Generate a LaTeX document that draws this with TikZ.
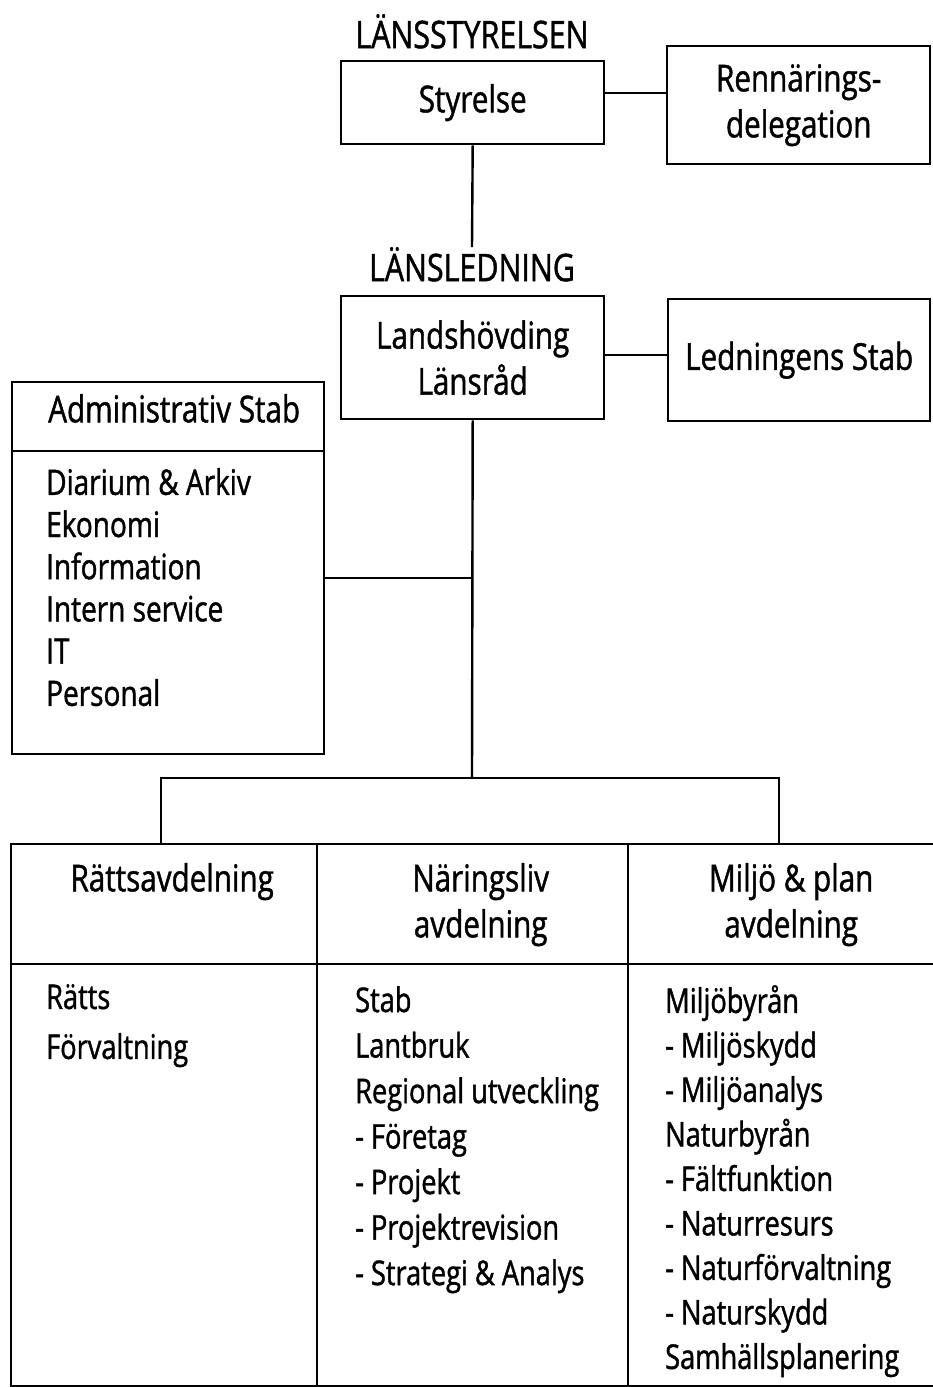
\documentclass[tikz,border=0pt]{standalone}
\usepackage{fontspec}
\setmainfont{Open Sans}[FakeStretch=0.8, FakeBold=1.2]
\usetikzlibrary{positioning,calc}
\tikzstyle{box} = [rectangle, draw=black, line width=2.4pt, align=center, inner sep=0pt]
\tikzstyle{cell} = [rectangle, draw=black, line width=2.4pt, inner sep=0pt, anchor=north west]
\tikzstyle{title} = [inner sep=0pt, align=center, anchor=north]
\tikzstyle{list} = [inner sep=0pt, align=left, anchor=north west]
\tikzstyle{conn} = [line width=2.4pt]

\begin{document}
\begin{tikzpicture}[x=1pt, y=-1pt, font=\fontsize{37}{46}\selectfont]
	\useasboundingbox (0,0) rectangle (933,1387);
	
	% ledning
	\node[title, font=\fontsize{38}{46}\selectfont] (lst) at (472,14) {LÄNSSTYRELSEN};
	\node[box, anchor=north west, minimum width=263pt, minimum height=83pt] (sty) at (340,60) {Styrelse};
	\node[box, anchor=north west, minimum width=263pt, minimum height=118pt] (ren) at (666,45) {Rennärings-\\delegation};
	\node[title, font=\fontsize{38}{46}\selectfont] (lsl) at (472,247) {LÄNSLEDNING};
	\node[box, anchor=north west, minimum width=263pt, minimum height=123pt] (lh) at (340,295) {Landshövding\\Länsråd};
	\node[box, anchor=north west, minimum width=262pt, minimum height=122pt] (ls) at (667,298) {Ledningens Stab};
	
	% administrativ stab
	\node[cell, minimum width=312pt, minimum height=69pt] (admhead) at (11,381) {};
	\node[cell, minimum width=312pt, minimum height=303pt] (admbody) at (11,450) {};
	\node[title] (admtitle) at ($(admhead.north)+(6,13)$) {Administrativ Stab};
	\node[list, font=\fontsize{35}{42.2}\selectfont] (admlist) at ($(admbody.north west)+(35,18)$)
		{Diarium \& Arkiv\\Ekonomi\\Information\\Intern service\\IT\\Personal};
	
	% avdelningar
	\node[cell, minimum width=306pt, minimum height=120pt] (rhead) at (10,843) {};
	\node[cell, minimum width=311pt, minimum height=120pt] (nhead) at (316,843) {};
	\node[cell, minimum width=310pt, minimum height=120pt] (mhead) at (627,843) {};
	\node[cell, minimum width=306pt, minimum height=422pt] (rbody) at (10,963) {};
	\node[cell, minimum width=311pt, minimum height=422pt] (nbody) at (316,963) {};
	\node[cell, minimum width=310pt, minimum height=422pt] (mbody) at (627,963) {};
	
	\node[title] (rtitle) at ($(rhead.north)+(8,20)$) {Rättsavdelning};
	\node[title] (ntitle) at ($(nhead.north)+(8,20)$) {Näringsliv\\avdelning};
	\node[title] (mtitle) at ($(mhead.north)+(8,20)$) {Miljö \& plan\\avdelning};
	
	\node[list, font=\fontsize{34}{50}\selectfont] (rlist) at ($(rbody.north west)+(36,21)$)
		{Rätts\\Förvaltning};
	\node[list, font=\fontsize{34}{45.5}\selectfont] (nlist) at ($(nbody.north west)+(39,23)$)
		{Stab\\Lantbruk\\Regional utveckling\\- Företag\\- Projekt\\- Projektrevision\\- Strategi \& Analys};
	\node[list, font=\fontsize{34}{44.5}\selectfont] (mlist) at ($(mbody.north west)+(38,22)$)
		{Miljöbyrån\\- Miljöskydd\\- Miljöanalys\\Naturbyrån\\- Fältfunktion\\- Naturresurs\\- Naturförvaltning\\- Naturskydd\\Samhällsplanering};
	
	% linjer
	\coordinate (split) at (472,778);
	\draw[conn] (sty.east |- 0,93) -- (ren.west |- 0,93);
	\draw[conn] (sty.south) -- (lsl.north);
	\draw[conn] (lh.east |- 0,355) -- (ls.west |- 0,355);
	\draw[conn] (lh.south) -- (split);
	\draw[conn] (admbody.east |- 0,578) -- (lh.south |- 0,578);
	\draw[conn] (rhead.north -| 161,0) |- (split) -| (mhead.north -| 779,0);
\end{tikzpicture}
\end{document}
